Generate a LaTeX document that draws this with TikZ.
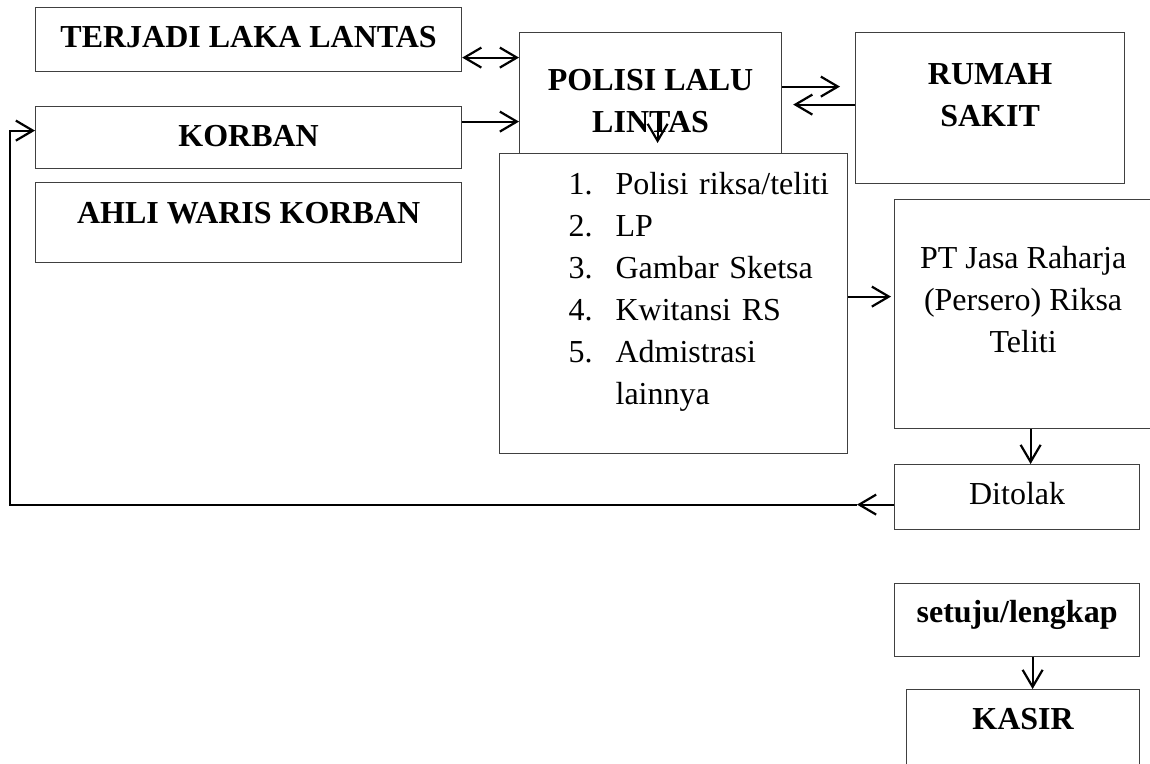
\documentclass[tikz,border=0pt]{standalone}
\usepackage{fontspec}
\setmainfont{Liberation Serif}
\usetikzlibrary{arrows.meta}
\tikzstyle{flowChart} = [x = 1pt, y = -1pt]
\tikzstyle{boxStyle} = [draw = black!75, line width = 1.2pt, fill = white, anchor = north west, inner xsep = 0pt, inner ysep = 0pt, font = \fontsize{32}{42}\selectfont]
\tikzstyle{titleBox} = [boxStyle, font = \fontsize{32}{42}\selectfont\bfseries, align = center]
\tikzstyle{arrowStyle} = [line width = 2.2pt, > = {Straight Barb[length = 17pt, width = 20pt]}]
\newcommand{\flowBox}[8]{\node [#1, minimum width = #5pt, text height = #6pt, text depth = #7pt] (#2) at (#3, #4) {#8};}
\newcommand{\listItem}[2]{\hspace*{69pt}\makebox[47pt][l]{#1}#2}

\begin{document}
\begin{tikzpicture}[flowChart]
  \fill [white] (0, 0) rectangle (1150, 763);
  \clip (0, 0) rectangle (1150, 763);

  \flowBox{titleBox}{terjadi}{35}{7}{426}{40}{24}{TERJADI LAKA LANTAS}
  \flowBox{titleBox}{korban}{35}{106}{426}{40}{22}{KORBAN}
  \flowBox{titleBox}{ahliWaris}{35}{182}{426}{41}{39}{AHLI WARIS KORBAN}
  \flowBox{titleBox}{polisi}{519}{32}{262}{100}{38}{POLISI LALU\\LINTAS}
  \flowBox{titleBox}{rumahSakit}{855}{32}{269}{94}{57}{RUMAH\\SAKIT}
  \flowBox{boxStyle, align = left, text width = 348pt}{syarat}{499}{153}{348}{41}{259}{%
    \listItem{1.}{Polisi riksa/teliti}\\
    \listItem{2.}{LP}\\
    \listItem{3.}{Gambar Sketsa}\\
    \listItem{4.}{Kwitansi RS}\\
    \listItem{5.}{Admistrasi}\\
    \listItem{}{lainnya}}
  \flowBox{boxStyle, align = center}{jasaRaharja}{894}{199}{257}{153}{76}{PT Jasa Raharja\\(Persero) Riksa\\Teliti}
  \flowBox{boxStyle}{ditolak}{894}{464}{245}{40}{25}{Ditolak}
  \flowBox{titleBox}{setuju}{894}{583}{245}{39}{34}{setuju/lengkap}
  \flowBox{titleBox}{kasir}{906}{689}{233}{40}{60}{KASIR}

  \draw [arrowStyle, <->] ([yshift = -18pt]terjadi.east) -- ([yshift = -18pt]terjadi.east -| polisi.west);
  \draw [arrowStyle, ->] ([yshift = 16pt]korban.east) -- ([yshift = 16pt]korban.east -| polisi.west);
  \draw [arrowStyle, ->, shorten > = 15pt] ([yshift = 15pt]polisi.east) -- ([yshift = 15pt]polisi.east -| rumahSakit.west);
  \draw [arrowStyle, ->, shorten > = 11pt] ([yshift = 3.5pt]rumahSakit.west) -- ([yshift = 3.5pt]rumahSakit.west -| polisi.east);
  \draw [arrowStyle, ->, shorten > = 10pt] ([shift = {(7pt, -9pt)}]polisi.center) -- ([xshift = 7pt]polisi.center |- syarat.north);
  \draw [arrowStyle, ->, shorten > = 3pt] ([yshift = 7pt]syarat.east) -- ([yshift = 7pt]syarat.east -| jasaRaharja.west);
  \draw [arrowStyle, ->] ([xshift = 7.5pt]jasaRaharja.south) -- ([xshift = 7.5pt]jasaRaharja.south |- ditolak.north);
  \draw [arrowStyle, ->] ([yshift = -7.5pt]ditolak.west) -- ++(-37, 0) coordinate (tolakTip);
  \draw [arrowStyle, ->] (tolakTip) -| ([xshift = -25pt, yshift = 7pt]korban.west) -- ([yshift = 7pt]korban.west);
  \draw [arrowStyle, ->] ([xshift = 15.5pt]setuju.south) -- ([xshift = 15.5pt]setuju.south |- kasir.north);
\end{tikzpicture}
\end{document}
